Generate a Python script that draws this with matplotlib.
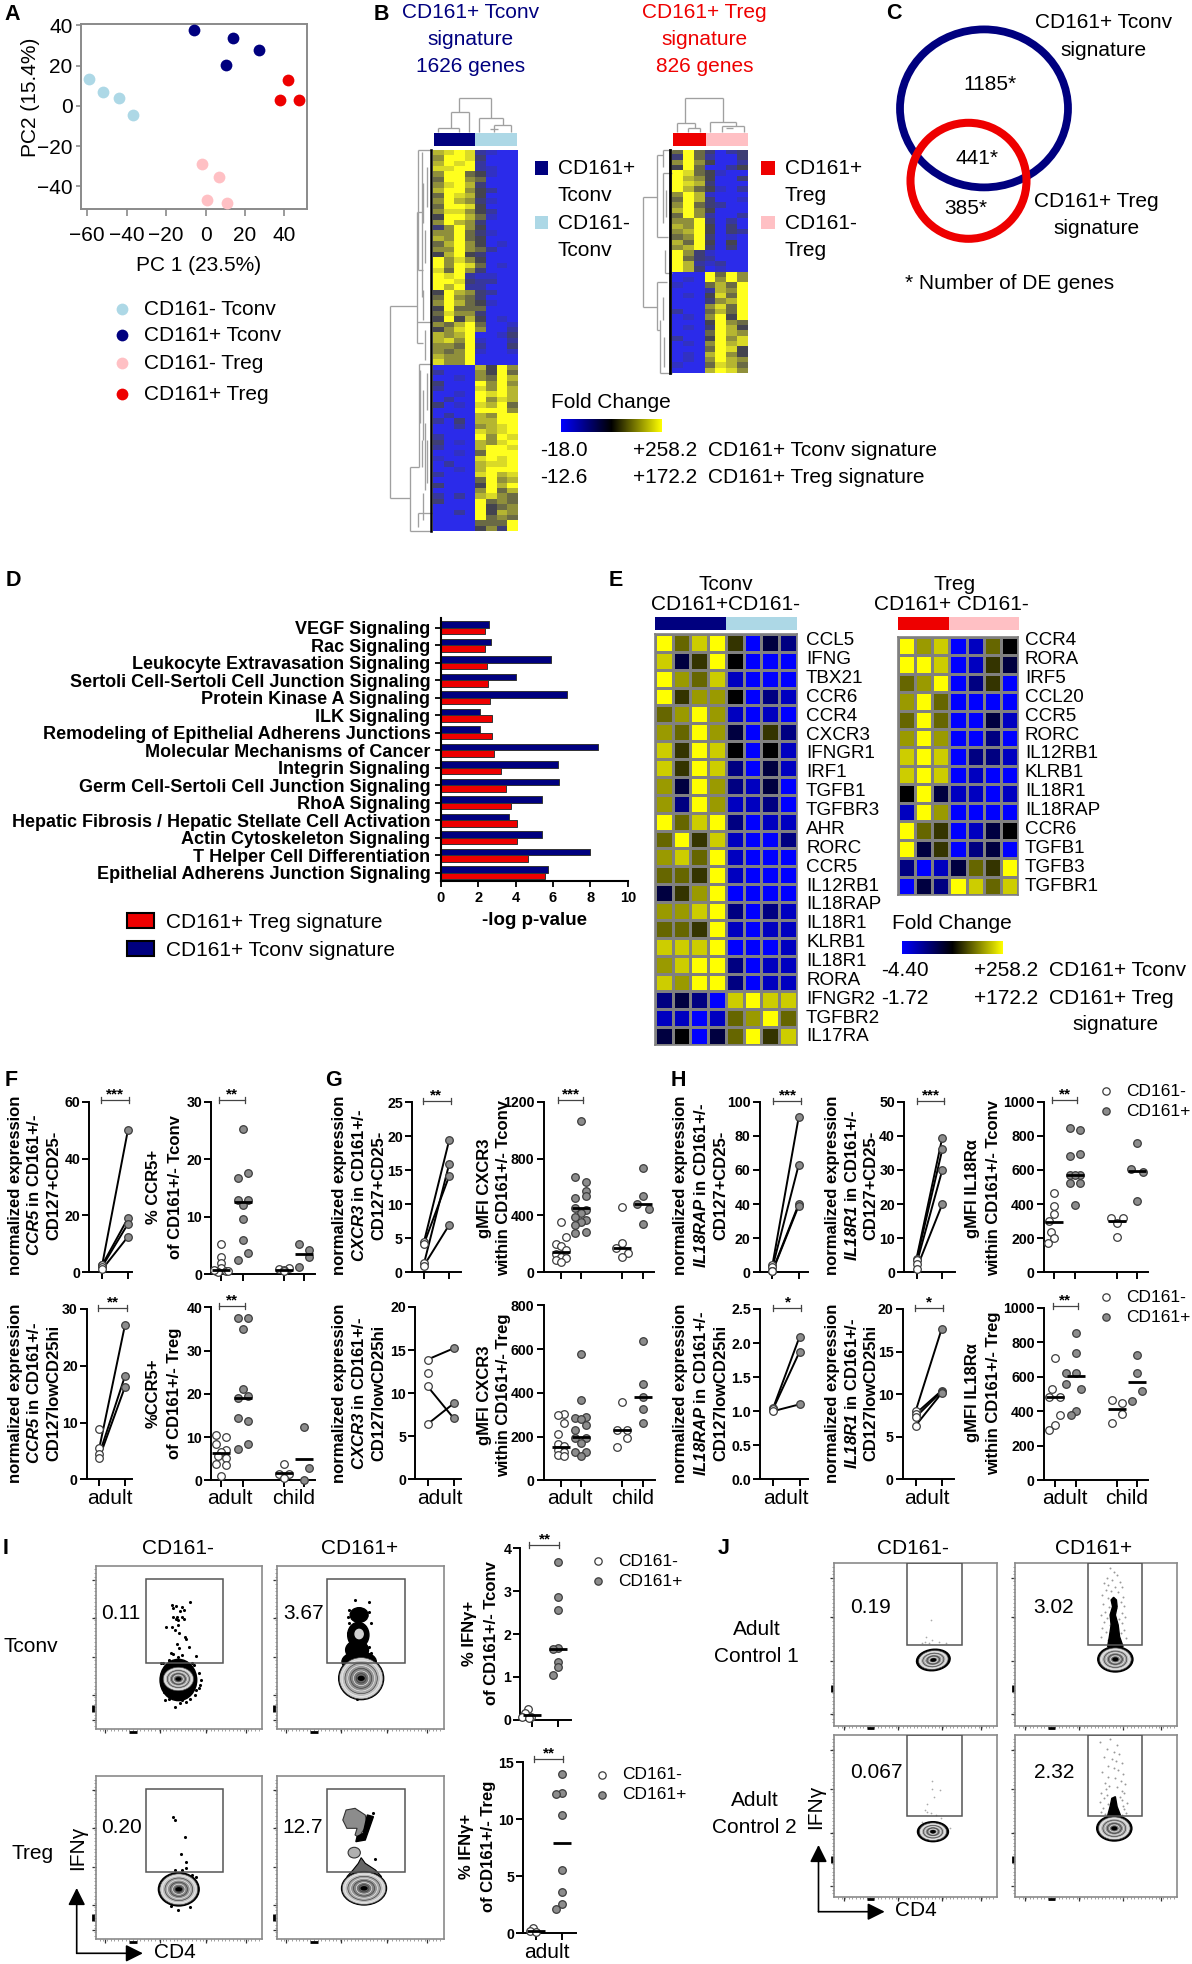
import numpy as np
import matplotlib
matplotlib.use("Agg")
import matplotlib.pyplot as plt
from matplotlib.colors import LinearSegmentedColormap
from matplotlib.patches import Ellipse, Rectangle, Polygon

# =========================
# A: PCA
# =========================
pca_neg_tconv_x = [-59, -52, -44, -37]
pca_neg_tconv_y = [13.5, 7, 4, -4.5]
pca_pos_tconv_x = [-6, 14, 27, 10.5]
pca_pos_tconv_y = [37.5, 33.5, 28, 20.5]
pca_neg_treg_x = [-2, 7, 1, 11]
pca_neg_treg_y = [-29, -35.5, -46.5, -48]
pca_pos_treg_x = [42, 38, 47.5]
pca_pos_treg_y = [13, 3, 2.8]

# =========================
# B: signature heatmaps, one digit per cell, 0 blue - 4 dark - 9 yellow
# =========================
sig_tconv_rows = [
    "78982100", "69983000", "79892000", "88992100",
    "69954100", "59965000", "68973000", "79964200", "59874000",
    "69763100", "59984000", "68864200", "49975100", "69763000",
    "36964000", "66953100", "76954000", "57964010", "66965200", "47943000",
    "96864000", "96985010", "85963000",
    "98921100", "99832200", "97922000",
    "49763200", "59653000", "69754100", "49555000", "58663000", "49474010",
    "65795001", "46896002", "76790013", "78691002", "66592003", "65691001",
    "76690000", "86690000",
    "00007496", "20006495", "00106597",
    "30009696", "20008697", "00109897", "02009687", "30108795", "00009996",
    "02007699", "20307799", "00206789", "00008789", "20009698", "30107689",
    "20007998", "00105999", "10008989", "02007889", "00107999", "20008978",
    "00005967", "30004979", "00006957", "20207865",
    "30009565", "00009456", "00209476", "00009565",
    "00005559", "00004639",
]
sig_treg_rows = [
    "5953023", "3952003", "6964002", "4950024",
    "9854100", "9764003", "9873000", "9754102",
    "6971000", "5973001", "6953200", "7964000", "5962002",
    "6693020", "7694030", "6794032", "5693010", "7594040", "6793030",
    "9631000", "9532000", "9721200", "9730100",
    "0009596", "0109696",
    "1005759", "0002769", "0104859", "0003679",
    "0006859", "2005759", "0106949",
    "0004965", "0103974", "0005976", "2004968", "0106978",
    "0005984", "0107964", "0106976", "1005875", "0007986",
]

# =========================
# D: pathways
# =========================
pathways = [
    "VEGF Signaling", "Rac Signaling", "Leukocyte Extravasation Signaling",
    "Sertoli Cell-Sertoli Cell Junction Signaling", "Protein Kinase A Signaling",
    "ILK Signaling", "Remodeling of Epithelial Adherens Junctions",
    "Molecular Mechanisms of Cancer", "Integrin Signaling",
    "Germ Cell-Sertoli Cell Junction Signaling", "RhoA Signaling",
    "Hepatic Fibrosis / Hepatic Stellate Cell Activation",
    "Actin Cytoskeleton Signaling", "T Helper Cell Differentiation",
    "Epithelial Adherens Junction Signaling",
]
logp_tconv = [2.58, 2.69, 5.9, 4.04, 6.75, 2.07, 2.12, 8.38, 6.29, 6.33, 5.41, 3.67, 5.41, 7.97, 5.74]
logp_treg = [2.36, 2.36, 2.45, 2.55, 2.62, 2.73, 2.73, 2.84, 3.21, 3.49, 3.78, 4.06, 4.06, 4.67, 5.59]

# =========================
# E: gene heatmaps
# =========================
genes_tconv = ["CCL5", "IFNG", "TBX21", "CCR6", "CCR4", "CXCR3", "IFNGR1", "IRF1", "TGFB1", "TGFBR3", "AHR",
               "RORC", "CCR5", "IL12RB1", "IL18RAP", "IL18R1", "KLRB1", "IL18R1", "RORA", "IFNGR2", "TGFBR2", "IL17RA"]
genes_treg = ["CCR4", "RORA", "IRF5", "CCL20", "CCR5", "RORC", "IL12RB1", "KLRB1", "IL18R1", "IL18RAP", "CCR6",
              "TGFB1", "TGFB3", "TGFBR1"]
gene_tconv_rows = [
    "96895032", "83594000", "97681000", "95774021", "67971010", "76973052",
    "85984041", "85982031", "73972130", "72971120", "96892011", "69581002",
    "78691000", "66591000", "35790000", "77892021", "66591011", "88890001",
    "78992011", "87992011", "23208988", "11016796", "34036958",
]
gene_treg_rows = [
    "9780164", "9980153", "6790250", "7960000", "6960031", "7970020", "8980221",
    "8980100", "4931101", "1970000", "9650134", "9350230", "2013659", "0329868",
]

# =========================
# F-H: paired expression
# =========================
ccr5_tconv_pre = [2.5, 2.5, 2, 1]
ccr5_tconv_post = [50, 19, 17, 12.5]
ccr5_treg_pre = [8.9, 5.5, 4.4, 3.8]
ccr5_treg_post = [None, 27.2, 18.2, 16.3]
cxcr3_tconv_pre = [4.5, 4.2, 1.3, 1]
cxcr3_tconv_post = [19.5, 14.2, 16, 7]
cxcr3_treg_pre = [13.9, 12.3, 10.8, 6.4]
cxcr3_treg_post = [15.2, None, 7.1, 8.8]
il18rap_tconv_pre = [4.5, 3, 1, 0.5]
il18rap_tconv_post = [91, 63, 40, 39]
il18r1_tconv_pre = [4, 3.5, 2.5, 1]
il18r1_tconv_post = [39.5, 36, 30, 20]
il18rap_treg_pre = [1.04, 1.03, 1.0]
il18rap_treg_post = [2.09, 1.87, 1.1]
il18r1_treg_pre = [8, 7.7, 7.3, 6.3]
il18r1_treg_post = [17.6, 10.4, 10.3, 10.1]

# =========================
# F-H: flow scatter, groups are adult-, adult+, child-, child+
# =========================
ccr5pct_tconv_y = [[5.3, 2.9, 1.9, 1.0, 0.6, 0.5, 0.4, 0.6, 0.7],
                   [25.2, 17.5, 16.7, 12.9, 12.9, 12, 9.5, 5.9, 3.6, 2.4],
                   [1, 0.9, 0.7, 0.5], [5.2, 4.1, 2.9, 1.2]]
ccr5pct_tconv_dx = [[0, 0, 0, 0, -5, 5, -3, 7, -7],
                    [0, 5, -5, -5, 5, 0, 0, 0, 5, -5],
                    [5, -5, 0, 0], [-5, 5, 5, -5]]
ccr5pct_tconv_med = [0.7, 12.5, 0.7, 3.4]
ccr5pct_treg_y = [[10.4, 10, 8.3, 7, 6.6, 5.6, 5.2, 3.7, 3.6, 1.0],
                  [37.6, 37.5, 35, 21, 19.6, 19, 14.5, 13.7, 8.3, 7.2],
                  [3.7, 1.5, 1.5, 0.5], [12.4, 2.9, 0]]
ccr5pct_treg_dx = [[-5, 5, -5, 5, 0, -3, 5, -5, 5, 0],
                   [-5, 5, 0, 0, 5, -5, -5, 5, 5, -5],
                   [0, -5, 5, 0], [0, 5, 0]]
ccr5pct_treg_med = [6.2, 19, 1.7, 5]
cxcr3_gmfi_tconv_y = [[356, 250, 200, 185, 160, 130, 110, 98, 87, 75],
                      [1063, 670, 637, 573, 536, 525, 453, 436, 415, 391, 368, 356, 333, 286, 279],
                      [461, 204, 169, 133, 110], [731, 539, 480, 443, 337]]
cxcr3_gmfi_tconv_dx = [[0, 5, -5, 0, 5, -5, 0, 5, -5, 0],
                       [0, -6, 5, 5, 5, -6, -6, 5, 0, -6, 5, 0, -6, 5, -6],
                       [0, 0, -6, 6, 0], [0, 0, -6, 6, 0]]
cxcr3_gmfi_tconv_med = [145, 450, 170, 480]
cxcr3_gmfi_treg_y = [[305, 299, 260, 212, 165, 155, 140, 130, 117, 112],
                     [577, 368, 290, 285, 280, 253, 230, 192, 192, 170, 131, 131, 112],
                     [357, 231, 230, 192, 154], [636, 441, 381, 328, 260]]
cxcr3_gmfi_treg_dx = [[3, -3, 3, -3, -3, 3, -3, 3, -3, 3],
                      [0, 0, 5, -6, 0, 5, -6, -6, 5, 0, -6, 5, 0],
                      [0, -5, 5, 5, -5], [0, 0, 0, 0, 0]]
cxcr3_gmfi_treg_med = [150, 198, 231, 382]
il18ra_tconv_y = [[467, 389, 342, 300, 238, 199, 174],
                  [846, 834, 682, 691, 570, 570, 570, 521, 521, 395],
                  [320, 320, 287, 205], [760, 603, 586, 416]]
il18ra_tconv_dx = [[0, 0, 0, -5, -3, 0, -6],
                   [-5, 5, -5, 5, -5, 5, 0, -5, 5, 0],
                   [-6, 6, 0, 0], [0, -6, 6, 0]]
il18ra_tconv_med = [297, 570, 303, 595]
il18ra_treg_y = [[711, 527, 485, 485, 378, 320, 291],
                 [855, 736, 620, 620, 558, 529, 402, 378],
                 [465, 446, 382, 334], [728, 622, 517, 461]]
il18ra_treg_dx = [[0, -3, -6, 5, 5, 0, -6],
                  [0, 0, -10, 0, -10, 5, 0, -5],
                  [-5, 5, 5, -5], [0, 0, 5, -5]]
il18ra_treg_med = [485, 607, 415, 570]

# =========================
# I: IFNg percentages
# =========================
ifng_tconv_y = [[0.24, 0.15, 0.07, 0.07, 0.05], [3.67, 2.86, 2.56, 1.67, 1.65, 1.34, 1.24, 1.04]]
ifng_tconv_dx = [[-4, -7, -1, -10, -3], [0, 0, 0, 0, -5, 0, 0, -5]]
ifng_tconv_med = [0.1, 1.66]
ifng_treg_y = [[0.5, 0.2, 0.15], [13.95, 12.3, 12.2, 10.35, 5.55, 3.6, 2.6, 2.1]]
ifng_treg_dx = [[-3, -6, 0], [0, 0, -6, 0, 0, 0, 0, -6]]
ifng_treg_med = [0.2, 7.9]

# =========================
# I/J: flow cytometry plots, read in picture units
# =========================
ia_dots_x = [422, 432, 447, 465, 424, 440, 450, 425, 433, 445, 430, 437, 450, 407, 422, 435, 428, 438, 452, 456,
             433, 438, 462, 424, 445, 480, 420, 413, 470, 435, 400, 415, 475, 488, 492, 487, 478, 465, 445, 428,
             415, 405, 402, 455, 440, 480, 490, 395]
ia_dots_y = [315, 318, 322, 306, 325, 333, 330, 352, 350, 352, 358, 360, 358, 380, 382, 375, 390, 400, 412, 418,
             433, 445, 440, 462, 465, 467, 460, 485, 488, 470, 490, 480, 495, 520, 540, 565, 585, 598, 600, 622,
             598, 600, 575, 605, 610, 570, 555, 490]
ib_dots_x = [870, 903, 855, 905, 852, 855, 908, 852, 905, 908, 850, 875]
ib_dots_y = [300, 305, 330, 335, 350, 370, 368, 400, 440, 460, 440, 598]
ic_dots_x = [423, 429, 452, 443, 455, 428, 445, 455, 470, 480, 465, 435, 420]
ic_dots_y = [950, 960, 1012, 1062, 1086, 1110, 1110, 1105, 1125, 1130, 1220, 1230, 1218]
id_dots_x = [915, 920]
id_dots_y = [938, 1078]
ja_dots_x = [827, 812, 808, 830, 850, 870, 800, 820]
ja_dots_y = [360, 412, 425, 420, 425, 428, 430, 428]
jb_dots_x = [1335, 1345, 1355, 1325, 1340, 1362, 1318, 1330, 1350, 1368, 1322, 1338, 1358, 1312, 1372, 1328, 1342,
             1365, 1315, 1375, 1332, 1352, 1320, 1370, 1310, 1378, 1326, 1360, 1318, 1368, 1335, 1355, 1312, 1374,
             1322, 1365, 1308, 1380, 1330, 1358]
jb_dots_y = [205, 215, 225, 235, 240, 245, 250, 255, 260, 262, 270, 272, 275, 285, 290, 295, 300, 305, 312, 318,
             320, 325, 335, 340, 345, 350, 355, 358, 365, 370, 375, 380, 385, 390, 395, 400, 410, 415, 420, 425]
jc_dots_x = [830, 828, 853, 835, 815, 810, 825, 840, 855, 800, 880, 815]
jc_dots_y = [842, 868, 870, 890, 912, 930, 940, 945, 955, 965, 985, 935]
jd_dots_x = [1305, 1335, 1355, 1325, 1345, 1360, 1318, 1340, 1352, 1368, 1328, 1345, 1358, 1312, 1372, 1330, 1350,
             1365, 1320, 1378, 1332, 1355, 1322, 1370, 1310, 1375, 1326, 1362, 1318, 1368, 1305, 1382, 1328, 1372,
             1315, 1375, 1308, 1380, 1320, 1370]
jd_dots_y = [725, 718, 735, 748, 755, 762, 770, 778, 782, 790, 798, 805, 810, 815, 822, 830, 835, 842, 848, 852,
             858, 862, 868, 872, 878, 880, 885, 890, 895, 900, 905, 908, 912, 918, 925, 928, 935, 938, 942, 945]

# =========================
# Dendrogram branches, picture units
# =========================
top_tconv_segs = [(208, 25, 302, 25), (208, 25, 208, 65), (302, 25, 302, 85), (182, 65, 238, 65), (182, 65, 182, 115),
                  (238, 65, 238, 125), (143, 115, 207, 115), (143, 115, 143, 125), (207, 115, 207, 125),
                  (266, 85, 338, 85), (266, 85, 266, 125), (338, 85, 338, 105), (312, 105, 362, 105),
                  (312, 105, 312, 125), (362, 105, 362, 125), (300, 118, 325, 118)]
top_treg_segs = [(136, 25, 248, 25), (136, 25, 136, 100), (248, 25, 248, 95), (110, 100, 165, 100), (110, 100, 110, 125),
                 (165, 100, 165, 115), (145, 115, 180, 115), (145, 115, 145, 125), (180, 115, 180, 125),
                 (210, 95, 287, 95), (210, 95, 210, 125), (287, 95, 287, 108), (245, 108, 312, 108),
                 (245, 108, 245, 125), (312, 108, 312, 125), (258, 115, 280, 115)]
left_tconv_segs = [(0, 648, 80, 648), (0, 648, 0, 1225), (0, 1225, 60, 1225), (60, 1130, 60, 1322), (60, 1130, 88, 1130),
                   (60, 1322, 125, 1322), (80, 365, 80, 760), (80, 365, 100, 365), (85, 180, 85, 540), (85, 180, 125, 180),
                   (85, 540, 100, 540), (95, 185, 95, 620), (80, 695, 125, 695), (80, 760, 100, 760), (88, 822, 88, 1130),
                   (88, 822, 125, 822), (90, 840, 90, 1000), (100, 900, 100, 1050), (105, 1000, 105, 1200),
                   (95, 1050, 95, 1130), (85, 1270, 85, 1310), (85, 1270, 125, 1270), (100, 280, 100, 400),
                   (105, 420, 105, 520), (100, 600, 100, 690), (105, 720, 105, 810), (110, 230, 110, 350),
                   (110, 850, 110, 960), (112, 1050, 112, 1180), (100, 1210, 100, 1290)]
left_treg_segs = [(8, 320, 52, 320), (8, 320, 8, 650), (8, 650, 50, 650), (52, 195, 52, 440), (52, 195, 70, 195),
                  (70, 180, 70, 230), (70, 180, 95, 180), (52, 440, 85, 440), (50, 575, 50, 720), (50, 575, 80, 575),
                  (50, 720, 60, 720), (60, 690, 60, 848), (60, 848, 95, 848), (68, 250, 68, 400), (68, 250, 95, 250),
                  (75, 480, 75, 548), (75, 548, 95, 548), (70, 620, 70, 690), (78, 300, 78, 380), (72, 740, 72, 830)]

# =========================
# Style
# =========================
plt.rcParams.update({
    "font.family": ["Liberation Sans", "DejaVu Sans"],
    "mathtext.fontset": "custom",
    "mathtext.rm": "Liberation Sans",
    "mathtext.it": "Liberation Sans:italic",
    "mathtext.bf": "Liberation Sans:bold",
    "mathtext.bfit": "Liberation Sans:italic:bold",
})

navy = "#00007f"
light_blue = "#add8e6"
red = "#ee0000"
pink = "#ffc0c4"
dot_gray = "#8c8c8c"
dot_edge = "#3c3c3c"
frame_gray = "#8a8a8a"
branch_gray = "#a0a0a0"

W, H = 1192, 1964
fig = plt.figure(figsize=(W / 100, H / 100), dpi=100)

cell_cmap = LinearSegmentedColormap.from_list("cell", [(0, "#0000ff"), (4 / 9, "#000000"), (1, "#ffff00")])
sig_cmap = LinearSegmentedColormap.from_list("sig", [(0, "#2b2bea"), (4 / 9, "#45454f"), (1, "#ffff1e")])
bar_cmap = LinearSegmentedColormap.from_list("bar", [(0, "#0000ff"), (0.5, "#000000"), (1, "#ffff00")])


def axpx(left, top, right, bottom):
    return fig.add_axes([left / W, 1 - bottom / H, (right - left) / W, (bottom - top) / H])


# whole-figure layer in pixels for the texts and small decorations
ov = fig.add_axes([0, 0, 1, 1], zorder=20)
ov.set_xlim(0, W)
ov.set_ylim(H, 0)
ov.axis("off")


def txt(x, y, s, size=15, ha="left", va="center", **kw):
    ov.text(x, y, s, fontsize=size, ha=ha, va=va, **kw)


def rect(l, t, r, b, color, **kw):
    ov.add_patch(Rectangle((l, t), r - l, b - t, facecolor=color, edgecolor=kw.pop("edgecolor", "none"), **kw))


for letter, lx, ly in [("A", 12.7, 14), ("B", 381.7, 14), ("C", 893.8, 13), ("D", 13.5, 580), ("E", 616, 580),
                       ("F", 10.7, 1080), ("G", 334, 1080), ("H", 678, 1080), ("I", 6, 1548), ("J", 723.8, 1548)]:
    txt(lx, ly, letter, size=15.5, ha="center", fontweight="bold")

# =========================
# (A)
# =========================
ax = axpx(81, 24, 307, 209)
for xs, ys, c in [(pca_neg_tconv_x, pca_neg_tconv_y, light_blue), (pca_pos_tconv_x, pca_pos_tconv_y, navy),
                  (pca_neg_treg_x, pca_neg_treg_y, pink), (pca_pos_treg_x, pca_pos_treg_y, red)]:
    ax.scatter(xs, ys, s=72, color=c, linewidth=0, zorder=3)
ax.set_xlim(-63.2, 51.5)
ax.set_ylim(-51.2, 40.7)
ax.set_xticks([-60, -40, -20, 0, 20, 40])
ax.set_yticks([-40, -20, 0, 20, 40])
ax.tick_params(labelsize=15, color=frame_gray, width=1.2)
ax.tick_params(axis="x", length=5, pad=7)
ax.tick_params(axis="y", length=3.6, pad=2.4)
for s in ax.spines.values():
    s.set_color(frame_gray)
    s.set_linewidth(1.4)
txt(199, 265, "PC 1 (23.5%)", ha="center")
txt(30, 97, "PC2 (15.4%)", ha="center", rotation=90)
for ly, c, s in [(309, light_blue, "CD161- Tconv"), (335, navy, "CD161+ Tconv"),
                 (363, pink, "CD161- Treg"), (394, red, "CD161+ Treg")]:
    ov.scatter([122], [ly], s=72, color=c, linewidth=0)
    txt(144, ly, s)

# =========================
# (B)
# =========================
def heat_digits(rows):
    return np.array([[int(c) for c in r] for r in rows], dtype=float)


def draw_segs(segs, ox, oy, sx, sy):
    for x0, y0, x1, y1 in segs:
        ov.plot([ox + x0 / sx, ox + x1 / sx], [oy + y0 / sy, oy + y1 / sy], color=branch_gray, lw=0.95,
                solid_capstyle="butt")


ax = axpx(432.7, 150, 517.3, 530.7)
ax.imshow(heat_digits(sig_tconv_rows), cmap=sig_cmap, vmin=0, vmax=9, aspect="auto", interpolation="nearest")
ax.axis("off")
ax = axpx(671.7, 150, 747.7, 373.3)
ax.imshow(heat_digits(sig_treg_rows), cmap=sig_cmap, vmin=0, vmax=9, aspect="auto", interpolation="nearest")
ax.axis("off")

rect(433.5, 132.7, 475.3, 146, navy)
rect(475.3, 132.7, 517.3, 146, light_blue)
rect(672.5, 132.7, 705.5, 146, red)
rect(705.5, 132.7, 747.7, 146, pink)
draw_segs(top_tconv_segs, 390, 90, 3, 3)
draw_segs(top_treg_segs, 640, 90, 3, 3)
draw_segs(left_tconv_segs, 390, 90, 3, 3)
draw_segs(left_treg_segs, 640, 90, 3, 3)
ov.plot([431, 431], [150, 530.7], color="black", lw=1.8)
ov.plot([670, 670], [150, 373.3], color="black", lw=2.0)

for cx, c, lines in [(470.3, navy, ["CD161+ Tconv", "signature", "1626 genes"]),
                     (704.6, red, ["CD161+ Treg", "signature", "826 genes"])]:
    for ly, s in zip([12.7, 39.6, 66], lines):
        txt(cx, ly, s, ha="center", color=c)

rect(534.8, 160.8, 547.5, 174.6, navy)
rect(534.8, 216, 547.5, 229, light_blue)
rect(760.8, 160.8, 774.7, 174.6, red)
rect(760.8, 216, 774.7, 229, pink)
for lx, lines in [(557.8, ["CD161+", "Tconv", "CD161-", "Tconv"]), (784.9, ["CD161+", "Treg", "CD161-", "Treg"])]:
    for ly, s in zip([168.7, 195.6, 223.8, 250.7], lines):
        txt(lx, ly, s)

gradient = np.linspace(0, 1, 256)[None, :]
ax = axpx(561.4, 419.4, 661.6, 432.5)
ax.imshow(gradient, cmap=bar_cmap, aspect="auto")
ax.axis("off")
txt(611, 402, "Fold Change", ha="center")
for ly, a, b, c in [(450, "-18.0", "+258.2", "CD161+ Tconv signature"), (477, "-12.6", "+172.2", "CD161+ Treg signature")]:
    txt(539.9, ly, a)
    txt(633, ly, b)
    txt(708, ly, c)

# =========================
# (C)
# =========================
ov.add_patch(Ellipse((984, 108.4), 168, 158, fill=False, edgecolor=navy, lw=5.6))
ov.add_patch(Ellipse((968.5, 180.8), 116, 116, fill=False, edgecolor=red, lw=5.8))
txt(1103.6, 22.4, "CD161+ Tconv", ha="center")
txt(1103.6, 50, "signature", ha="center")
txt(989.5, 84.4, "1185*", ha="center")
txt(976.7, 158.4, "441*", ha="center")
txt(965.4, 208.7, "385*", ha="center")
txt(1096, 201.4, "CD161+ Treg", ha="center")
txt(1096, 228, "signature", ha="center")
txt(905, 283.4, "* Number of DE genes")

# =========================
# (D)
# =========================
ax = axpx(440.8, 618.3, 627.8, 880.7)
pos = np.arange(len(pathways))
ax.barh(pos - 0.19, logp_tconv, height=0.36, color=navy, edgecolor="#333333", linewidth=0.7)
ax.barh(pos + 0.19, logp_treg, height=0.36, color=red, edgecolor="#333333", linewidth=0.7)
ax.set_xlim(0, 10)
ax.set_ylim(14.457, -0.537)
ax.set_yticks(pos)
ax.set_yticklabels(pathways, fontsize=13, fontweight="bold")
ax.set_xticks([0, 2, 4, 6, 8, 10])
ax.set_xticklabels(["0", "2", "4", "6", "8", "10"], fontsize=10.5, fontweight="bold")
ax.tick_params(length=4.5, width=1.3, pad=3)
ax.spines[["top", "right"]].set_visible(False)
ax.spines[["left", "bottom"]].set_linewidth(1.5)
txt(534.7, 920.7, "-log p-value", size=13.5, ha="center", fontweight="bold")
rect(126.5, 913.3, 154.3, 927.7, red, edgecolor="black", lw=1.5)
rect(126.5, 941, 154.3, 955.7, navy, edgecolor="black", lw=1.5)
txt(166.5, 922, "CD161+ Treg signature")
txt(166.5, 950, "CD161+ Tconv signature")

# =========================
# (E)
# =========================
for box, rows in [((655, 634, 796.7, 1045), gene_tconv_rows), ((897.7, 636.7, 1018.3, 895), gene_treg_rows)]:
    ax = axpx(*box)
    ax.pcolormesh(heat_digits(rows), cmap=cell_cmap, vmin=0, vmax=9, edgecolors="#808080", linewidth=0.85)
    ax.invert_yaxis()
    ax.set_xticks([])
    ax.set_yticks([])
    for s in ax.spines.values():
        s.set_color("#808080")
        s.set_linewidth(1.2)

rect(655, 616.7, 726.3, 630, navy)
rect(726.3, 616.7, 796.7, 630, light_blue)
rect(897.7, 616.7, 949.3, 630, red)
rect(949.3, 616.7, 1019.3, 630, pink)
for i, g in enumerate(genes_tconv):
    txt(806, 640.7 + 18.87 * i, g, size=13.6)
for i, g in enumerate(genes_treg):
    txt(1025, 640.7 + 18.87 * i, g, size=13.6)
txt(726, 585, "Tconv", ha="center")
txt(725, 605, "CD161+CD161-", ha="center")
txt(955, 585, "Treg", ha="center")
txt(951, 605, "CD161+ CD161-", ha="center")
ax = axpx(902.4, 940.7, 1002.8, 954)
ax.imshow(gradient, cmap=bar_cmap, aspect="auto")
ax.axis("off")
txt(951.9, 923.3, "Fold Change", ha="center")
txt(881, 970.7, "-4.40")
txt(974, 970.7, "+258.2")
txt(1048.6, 970.7, "CD161+ Tconv")
txt(881, 998, "-1.72")
txt(974, 998, "+172.2")
txt(1048.6, 998, "CD161+ Treg")
txt(1115.7, 1024.3, "signature", ha="center")

# =========================
# (F-H) small plots
# =========================
def stat_axes(left, right, top, bottom, ymax, yticks, xticks, ticklabels=None):
    a = axpx(left, top, right, bottom)
    a.set_xlim(left, right)
    a.set_ylim(0, ymax)
    a.set_yticks(yticks)
    a.set_yticklabels(ticklabels or [str(t) for t in yticks], fontsize=10.2, fontweight="bold")
    a.set_xticks(xticks)
    a.set_xticklabels([])
    a.tick_params(length=5, width=1.4, pad=1.5)
    a.spines[["top", "right"]].set_visible(False)
    a.spines[["left", "bottom"]].set_linewidth(1.4)
    a.patch.set_alpha(0)
    return a


def paired(a, xticks, pre, post):
    for v0, v1 in zip(pre, post):
        if v1 is not None:
            a.plot(xticks, [v0, v1], color="black", lw=1.4, zorder=2, clip_on=False)
    a.scatter([xticks[0]] * len(pre), pre, s=30, color="white", edgecolor=dot_edge, linewidth=0.9, zorder=3, clip_on=False)
    post_kept = [v for v in post if v is not None]
    a.scatter([xticks[1]] * len(post_kept), post_kept, s=30, color=dot_gray, edgecolor=dot_edge, linewidth=0.9, zorder=3,
              clip_on=False)


def groups(a, xticks, ys, dxs, meds):
    for i, (x0, y, dx, m) in enumerate(zip(xticks, ys, dxs, meds)):
        c = "white" if i % 2 == 0 else dot_gray
        a.scatter([x0 + d for d in dx], y, s=30, color=c, edgecolor=dot_edge, linewidth=0.9, zorder=3, clip_on=False)
        a.plot([x0 - 9, x0 + 9], [m, m], color="black", lw=2.0, zorder=4, solid_capstyle="butt")


def sig(x0, x1, y, stars, star_x, star_y):
    ov.plot([x0, x1], [y, y], color="#444444", lw=0.9)
    ov.plot([x0, x0], [y - 3, y + 3], color="#444444", lw=0.9)
    ov.plot([x1, x1], [y - 3, y + 3], color="#444444", lw=0.9)
    txt(star_x, star_y + 3, stars, size=11, ha="center", fontweight="bold")


def ylab(lines, xs, cy):
    for s, x in zip(lines, xs):
        txt(x, cy, s, size=12, ha="center", rotation=90, fontweight="bold")


top1, bot1 = 1101.7, 1272.3
top2, bot2 = 1309, 1479.3
expr_label = "normalized expression"

# F
xt = [102.1, 127.9]
a = stat_axes(89.3, 132, top1, bot1, 60, [0, 20, 40, 60], xt)
paired(a, xt, ccr5_tconv_pre, ccr5_tconv_post)
sig(100.7, 128.6, 1100, "***", 115, 1091.7)
ylab([expr_label, r"$\mathbfit{CCR5}$ in CD161+/-", "CD127+CD25-"], [16, 34, 53.6], 1185)

xt = [221.4, 242.9, 283.9, 304.3]
a = stat_axes(211.4, 315.4, top1, 1274, 30, [0, 10, 20, 30], xt)
groups(a, xt, ccr5pct_tconv_y, ccr5pct_tconv_dx, ccr5pct_tconv_med)
sig(219, 245, 1100, "**", 232, 1091.7)
ylab(["% CCR5+", "of CD161+/- Tconv"], [153.6, 175], 1187.3)

xt = [99.3, 125]
a = stat_axes(86.8, 132, top2, bot2, 30, [0, 10, 20, 30], xt)
paired(a, xt, ccr5_treg_pre, ccr5_treg_post)
sig(98, 126.8, 1307.7, "**", 112.5, 1299)
ylab([expr_label, r"$\mathbfit{CCR5}$ in CD161+/-", "CD127lowCD25hi"], [16, 34, 53.6], 1393)

xt = [221.4, 242.9, 283.9, 304.3]
a = stat_axes(211.4, 315.4, 1307.3, 1480.3, 40, [0, 10, 20, 30, 40], xt)
groups(a, xt, ccr5pct_treg_y, ccr5pct_treg_dx, ccr5pct_treg_med)
sig(219, 245, 1306, "**", 232, 1297.7)
ylab(["%CCR5+", "of CD161+/- Treg"], [153.6, 175], 1393.5)
txt(109.6, 1499, "adult", ha="center")
txt(230, 1499, "adult", ha="center")
txt(293.6, 1499, "child", ha="center")

# G
xt = [424, 449.3]
a = stat_axes(411.8, 460.7, 1102.3, bot1, 25, [0, 5, 10, 15, 20, 25], xt)
paired(a, xt, cxcr3_tconv_pre, cxcr3_tconv_post)
sig(422.5, 451, 1100.7, "**", 436.4, 1092)
ylab([expr_label, r"$\mathbfit{CXCR3}$ in CD161+/-", "CD127+CD25-"], [339.3, 359, 378.6], 1185)

xt = [560.5, 581.4, 621.7, 642.7]
a = stat_axes(543.6, 654, top1, bot1, 1200, [0, 400, 800, 1200], xt)
groups(a, xt, cxcr3_gmfi_tconv_y, cxcr3_gmfi_tconv_dx, cxcr3_gmfi_tconv_med)
sig(558, 583.4, 1100, "***", 571.3, 1091.7)
ylab(["gMFI CXCR3", "within CD161+/- Tconv"], [484, 503.6], 1188)

xt = [427.5, 453.6]
a = stat_axes(415.4, 460.7, 1307, bot2, 20, [0, 5, 10, 15, 20], xt)
paired(a, xt, cxcr3_treg_pre, cxcr3_treg_post)
ylab([expr_label, r"$\mathbfit{CXCR3}$ in CD161+/-", "CD127lowCD25hi"], [339.3, 359, 378.6], 1393)

xt = [560.5, 581.4, 621.7, 642.7]
a = stat_axes(543.6, 655.2, 1305.3, 1480.3, 800, [0, 200, 400, 600, 800], xt)
groups(a, xt, cxcr3_gmfi_treg_y, cxcr3_gmfi_treg_dx, cxcr3_gmfi_treg_med)
ylab(["gMFI CXCR3", "within CD161+/- Treg"], [484, 503.6], 1395)
txt(439.6, 1499, "adult", ha="center")
txt(569.7, 1499, "adult", ha="center")
txt(632.6, 1499, "child", ha="center")

# H
xt = [772.5, 798.7]
a = stat_axes(759.6, 808, top1, bot1, 100, [0, 20, 40, 60, 80, 100], xt)
paired(a, xt, il18rap_tconv_pre, il18rap_tconv_post)
sig(772.5, 800.7, 1100.7, "***", 787.8, 1092)
ylab([expr_label, r"$\mathbfit{IL18RAP}$ in CD161+/-", "CD127+CD25-"], [681, 701, 721.3], 1185)

xt = [916.5, 942.3]
a = stat_axes(904, 955, top1, bot1, 50, [0, 10, 20, 30, 40, 50], xt)
paired(a, xt, il18r1_tconv_pre, il18r1_tconv_post)
sig(916.5, 944, 1100.7, "***", 931, 1092)
ylab([expr_label, r"$\mathbfit{IL18R1}$ in CD161+/-", "CD127+CD25-"], [832, 852.3, 870.5], 1185)

xt = [1054.4, 1075, 1116.5, 1136.6]
a = stat_axes(1043.9, 1147.9, top1, bot1, 1000, [0, 200, 400, 600, 800, 1000], xt)
groups(a, xt, il18ra_tconv_y, il18ra_tconv_dx, il18ra_tconv_med)
sig(1052, 1077, 1100, "**", 1064.8, 1091.7)
ylab(["gMFI IL18Rα", "within CD161+/- Tconv"], [973, 993.5], 1188)

xt = [773, 799.5]
a = stat_axes(760.4, 808, top2, bot2, 2.5, [0, 0.5, 1, 1.5, 2, 2.5], xt, ["0.0", "0.5", "1.0", "1.5", "2.0", "2.5"])
paired(a, xt, il18rap_treg_pre, il18rap_treg_post)
sig(772.5, 800.7, 1307.7, "*", 787.8, 1299)
ylab([expr_label, r"$\mathbfit{IL18RAP}$ in CD161+/-", "CD127lowCD25hi"], [681, 701, 721.3], 1393)

xt = [915.6, 941.5]
a = stat_axes(902.7, 954, top2, bot2, 20, [0, 5, 10, 15, 20], xt)
paired(a, xt, il18r1_treg_pre, il18r1_treg_post)
sig(914.8, 943, 1307.7, "*", 929, 1299)
ylab([expr_label, r"$\mathbfit{IL18R1}$ in CD161+/-", "CD127lowCD25hi"], [832, 852.3, 870.5], 1393)

xt = [1055.2, 1075.8, 1116.5, 1137.4]
a = stat_axes(1043.9, 1147.9, 1307.7, 1480.3, 1000, [0, 200, 400, 600, 800, 1000], xt)
groups(a, xt, il18ra_treg_y, il18ra_treg_dx, il18ra_treg_med)
sig(1052.8, 1078, 1306, "**", 1065, 1297.7)
ylab(["gMFI IL18Rα", "within CD161+/- Treg"], [973, 993.5], 1393)
txt(786, 1499, "adult", ha="center")
txt(927, 1499, "adult", ha="center")
txt(1064.6, 1499, "adult", ha="center")
txt(1126.5, 1499, "child", ha="center")


def circle_legend(cx, tx, y0, y1):
    ov.scatter([cx], [y0], s=28, color="white", edgecolor=dot_edge, linewidth=0.9)
    ov.scatter([cx], [y1], s=28, color=dot_gray, edgecolor=dot_edge, linewidth=0.9)
    txt(tx, y0, "CD161-", size=12.5)
    txt(tx, y1, "CD161+", size=12.5)


circle_legend(1106.4, 1125.7, 1091.3, 1111.3)
circle_legend(1106.4, 1125.7, 1297, 1317)

# =========================
# (I) percentages
# =========================
xt = [531.8, 558.4]
a = stat_axes(520.4, 571.4, 1548.3, 1719.7, 4, [0, 1, 2, 3, 4], xt)
groups(a, xt, ifng_tconv_y, ifng_tconv_dx, ifng_tconv_med)
sig(529.4, 559, 1545, "**", 545, 1536)
ylab(["% IFNγ+", "of CD161+/- Tconv"], [469.4, 491], 1633.3)
circle_legend(598.4, 618.4, 1561.3, 1581.3)

xt = [535.5, 562]
a = stat_axes(523.3, 575.5, 1762.3, 1933.3, 15, [0, 5, 10, 15], xt)
groups(a, xt, ifng_treg_y, ifng_treg_dx, ifng_treg_med)
sig(533.5, 563.3, 1759, "**", 549, 1750)
ylab(["% IFNγ+", "of CD161+/- Treg"], [466, 488], 1846.7)
circle_legend(602, 622.4, 1774.7, 1794.7)
txt(547, 1952.7, "adult", ha="center")

# =========================
# (I, J) flow plots
# =========================
def flow_axes(box, xlim, ylim, gate, xmajor, ymajor, cluster_x, cluster_y):
    a = axpx(*box)
    a.set_xlim(*xlim)
    a.set_ylim(*ylim)
    for s in a.spines.values():
        s.set_color(frame_gray)
        s.set_linewidth(1.2)
    a.set_xticks(xmajor)
    a.set_yticks(ymajor)
    a.set_xticks(np.linspace(xlim[0], xlim[1], 46)[1:-1], minor=True)
    a.set_yticks(np.linspace(ylim[0], ylim[1], 46)[1:-1], minor=True)
    a.set_xticklabels([])
    a.set_yticklabels([])
    a.tick_params(which="major", length=3, width=0.9, color="#333333", pad=1)
    a.tick_params(which="minor", length=1.2, width=0.5, color="#777777")
    a.add_patch(Rectangle((gate[0], gate[1]), gate[2] - gate[0], gate[3] - gate[1], fill=False, edgecolor="#555555", lw=1.1,
                          zorder=6))
    a.plot([cluster_x - 10, cluster_x + 10], [ylim[0] + 7, ylim[0] + 7], color="black", lw=2.0, clip_on=False,
           solid_capstyle="butt")
    a.plot([xlim[0] - 7, xlim[0] - 7], [cluster_y - 11, cluster_y + 11], color="black", lw=2.0, clip_on=False,
           solid_capstyle="butt")
    return a


def blob(a, cx, cy, rx, ry, outer=1.0, angle=0, first=0.93):
    a.add_patch(Ellipse((cx, cy), 2 * rx * outer, 2 * ry * outer, angle=angle, color="black", zorder=3))
    shades = ["#d2d2d2", "#bdbdbd", "#a6a6a6", "#949494", "#848484", "#747474", "#666666"]
    for k, shade in enumerate(shades):
        s = first - k * 0.125
        a.add_patch(Ellipse((cx, cy), 2 * rx * s, 2 * ry * s, angle=angle, facecolor=shade,
                            edgecolor="#f0f0f0" if k % 2 else "#3c3c3c", lw=0.45, zorder=4))
    a.add_patch(Ellipse((cx, cy), 0.26 * rx, 0.18 * ry, angle=angle, color="black", zorder=5))


i_xmajor = [258, 392, 505, 602]
i_xmajor2 = [702, 836, 949, 1046]
j_xmajor = [580, 733, 858, 968]
j_xmajor2 = [1093, 1246, 1371, 1481]

ia = flow_axes((96, 1565.7, 262.4, 1729.3), (235, 643), (688, 197), (357, 237, 547, 489), i_xmajor,
               [240, 355, 470, 585, 660], 325, 625)
ia.add_patch(Ellipse((437, 540), 90, 124, color="black", zorder=3))
ia.scatter(ia_dots_x, ia_dots_y, s=5, color="black", linewidth=0, zorder=3)
blob(ia, 437, 537, 40, 38)

ib = flow_axes((277, 1565.7, 443.7, 1729.3), (679, 1087), (688, 197), (801, 237, 992, 489), i_xmajor2,
               [240, 355, 470, 585, 660], 769, 625)
ib.scatter(ib_dots_x, ib_dots_y, s=5, color="black", linewidth=0, zorder=3)
for cx, cy, rx, ry in [(880, 345, 22, 22), (878, 405, 26, 38), (875, 450, 28, 28), (880, 485, 42, 30)]:
    ib.add_patch(Ellipse((cx, cy), 2 * rx, 2 * ry, color="black", zorder=3))
ib.add_patch(Ellipse((880, 402), 20, 28, color="#d0d0d0", zorder=4))
blob(ib, 885, 535, 55, 64, first=0.97)

ic = flow_axes((96, 1776, 262.4, 1939.3), (235, 643), (1318, 828), (357, 868, 547, 1117), i_xmajor,
               [870, 985, 1100, 1215, 1290], 325, 1252)
ic.scatter(ic_dots_x, ic_dots_y, s=5, color="black", linewidth=0, zorder=3)
blob(ic, 438, 1168, 50, 50)

id_ax = flow_axes((277, 1776, 443.7, 1939.3), (679, 1087), (1318, 828), (801, 868, 992, 1117), i_xmajor2,
                  [870, 985, 1100, 1215, 1290], 769, 1252)
id_ax.scatter(id_dots_x, id_dots_y, s=5, color="black", linewidth=0, zorder=3)
id_ax.add_patch(Polygon([(885, 1073), (895, 1090), (920, 1110), (935, 1130), (850, 1130), (865, 1110), (878, 1090)],
                        facecolor="#666666", edgecolor="black", lw=0.8, zorder=3))
blob(id_ax, 892, 1165, 55, 50, first=0.97)
id_ax.add_patch(Polygon([(848, 930), (870, 925), (895, 945), (900, 975), (885, 1000), (890, 1020), (870, 1005), (875, 985),
                         (850, 985), (840, 960)], facecolor="#8c8c8c", edgecolor="#333333", lw=0.8, zorder=4))
id_ax.add_patch(Polygon([(900, 945), (915, 950), (905, 985), (895, 1020), (872, 1025), (875, 1010), (890, 1000)],
                        color="black", zorder=4))
id_ax.add_patch(Ellipse((868, 1058), 30, 32, facecolor="#b0b0b0", edgecolor="#333333", lw=0.8, zorder=4))

ja = flow_axes((834.4, 1563.3, 996.7, 1726), (552, 1013), (678, 190), (758, 190, 914, 434), j_xmajor,
               [235, 352, 484, 643], 655, 565)
ja.scatter(ja_dots_x, ja_dots_y, s=1.5, color="#aaaaaa", linewidth=0, zorder=3)
blob(ja, 833, 480, 48, 32, angle=-8, first=0.88)

jb = flow_axes((1015.4, 1563.3, 1177.3, 1726), (1066, 1526), (678, 190), (1271, 190, 1427, 434), j_xmajor2,
               [235, 352, 484, 643], 1168, 565)
jb.scatter(jb_dots_x, jb_dots_y, s=2, color="#999999", linewidth=0, zorder=3)
jb.add_patch(Polygon([(1338, 300), (1345, 292), (1353, 300), (1355, 320), (1350, 345), (1358, 375), (1362, 410), (1372, 440),
                      (1328, 440), (1333, 410), (1338, 375), (1335, 345), (1342, 320)], color="black", zorder=3))
blob(jb, 1350, 478, 50, 38, first=0.9)

jc = flow_axes((834.4, 1735, 996.7, 1896.7), (552, 1013), (1190, 705), (758, 705, 914, 947), j_xmajor,
               [750, 866, 998, 1157], 655, 1078)
jc.scatter(jc_dots_x, jc_dots_y, s=1.5, color="#aaaaaa", linewidth=0, zorder=3)
blob(jc, 832, 995, 44, 30, first=0.88)

jd = flow_axes((1015.4, 1735, 1177.3, 1896.7), (1066, 1526), (1190, 705), (1271, 705, 1427, 947), j_xmajor2,
               [750, 866, 998, 1157], 1168, 1078)
jd.scatter(jd_dots_x, jd_dots_y, s=2, color="#999999", linewidth=0, zorder=3)
jd.add_patch(Polygon([(1340, 895), (1350, 890), (1355, 920), (1368, 955), (1326, 955), (1335, 920)], color="black", zorder=3))
blob(jd, 1347, 985, 50, 38, first=0.9)

txt(178.4, 1548, "CD161-", ha="center")
txt(360, 1548, "CD161+", ha="center")
txt(100.8, 1613.3, "0.11")
txt(282.9, 1613.3, "3.67")
txt(100.8, 1827.7, "0.20")
txt(282.5, 1827.7, "12.7")
txt(4, 1646, "Tconv")
txt(11.4, 1853.3, "Treg")
txt(912.9, 1548, "CD161-", ha="center")
txt(1093.5, 1548, "CD161+", ha="center")
txt(850.2, 1607.7, "0.19")
txt(1033.7, 1607.7, "3.02")
txt(850.2, 1772.7, "0.067")
txt(1033.7, 1772.7, "2.32")
txt(756.9, 1629.3, "Adult", ha="center")
txt(756.2, 1656.7, "Control 1", ha="center")
txt(754.4, 1801, "Adult", ha="center")
txt(754.4, 1827.7, "Control 2", ha="center")


def axis_arrows(ox, oy, up, right):
    style = dict(arrowstyle="-|>", color="black", lw=1.2, mutation_scale=26, shrinkA=0, shrinkB=0)
    ov.annotate("", xy=(ox, up), xytext=(ox, oy), arrowprops=style)
    ov.annotate("", xy=(right, oy), xytext=(ox, oy), arrowprops=style)


axis_arrows(76.7, 1953.3, 1888, 142.9)
axis_arrows(818.5, 1911.7, 1845, 884.7)
txt(77.5, 1848.3, "IFNγ", ha="center", rotation=90)
txt(174.7, 1952.7, "CD4", ha="center")
txt(816, 1806.7, "IFNγ", ha="center", rotation=90)
txt(915.7, 1910.7, "CD4", ha="center")

fig.savefig("out.png", dpi=100)
